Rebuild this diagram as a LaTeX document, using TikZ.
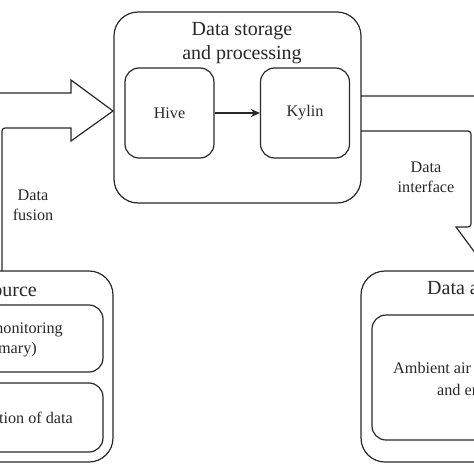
\documentclass[tikz,border=0pt]{standalone}
\usepackage{fontspec}
\setmainfont{Liberation Serif}
\usetikzlibrary{arrows,arrows.meta,calc}
\usetikzlibrary{positioning}
\definecolor{linegray}{RGB}{40,40,40}
\tikzset{>={Stealth[length=9pt,width=8pt]}}
\tikzset{
  bigbox/.style={draw=linegray, line width=1.2pt, rounded corners=24pt,
    minimum width=247pt, minimum height=191pt},
  smallbox/.style={draw=linegray, line width=1.2pt, rounded corners=14pt},
  fatarrow/.style={draw=linegray, line width=1.2pt},
  titletext/.style={font=\fontsize{20}{24}\selectfont, text=linegray},
  bodytext/.style={font=\fontsize{16.2}{20}\selectfont, text=linegray, align=center},
}

\begin{document}
\begin{tikzpicture}[x=1pt,y=-1pt]
        \useasboundingbox (0,0) rectangle (474,474);
        \clip (0,0) rectangle (474,474);
        % storage and processing
        \node[bigbox] (store) at (237.5,107.5) {};
        \node[titletext, align=center] (storetitle) at (242,43) {Data storage\\and processing};
        \node[smallbox, minimum width=89pt, minimum height=90pt, bodytext] (hive) at (169.5,113) {Hive};
        \node[smallbox, minimum width=89pt, minimum height=90pt, bodytext] (kylin) at (305,113) {Kylin};
        \draw[->, draw=linegray, line width=1.2pt] (hive) -- (kylin);
        % source
        \node[bigbox] (source) at (-10.5,366.5) {};
        \node[titletext, anchor=east, inner sep=0pt] (sourcetitle) at (37,290) {Data source};
        \node[smallbox, minimum width=227pt, minimum height=67pt] (online) at (-10.5,338.5) {};
        \node[bodytext, anchor=east, inner sep=0pt] (onlineA) at (63,330) {Online monitoring};
        \node[bodytext, anchor=east, inner sep=0pt] (onlineB) at (37,350) {(primary)};
        \node[smallbox, minimum width=227pt, minimum height=69pt] (collect) at (-10.5,417.5) {};
        \node[bodytext, anchor=east, inner sep=0pt] (collecttext) at (73,418) {Collection of data};
        % application
        \node[bigbox] (apply) at (484.5,366.5) {};
        \node[titletext, anchor=west, inner sep=0pt] (applytitle) at (427,290) {Data application};
        \node[smallbox, minimum width=225pt, minimum height=125pt] (ambient) at (484.5,377.5) {};
        \node[bodytext, anchor=west, inner sep=0pt] (ambientA) at (393,370) {Ambient air quality};
        \node[bodytext, anchor=west, inner sep=0pt] (ambientB) at (437,390) {and emission};
        % fat arrows
        \coordinate (ltip) at (113,111);
        \draw[fatarrow] (-33,271) -- (-33,93) -- (71,93) -- (71,80) -- (ltip)
          -- (71,141) -- (71,128) [rounded corners=3pt] -- (2,128) -- (2,271);
        \coordinate (rtip) at (488.5,271);
        \draw[fatarrow] (361,96) -- (506,96) -- (506,227) -- (521,227) -- (rtip)
          -- (456,227) [rounded corners=3pt] -- (471,227) -- (471,131) -- (361,131);
        \node[bodytext] (fusion) at (33,205) {Data\\fusion};
        \node[bodytext] (iface) at (426,177) {Data\\interface};
      \end{tikzpicture}
\end{document}
